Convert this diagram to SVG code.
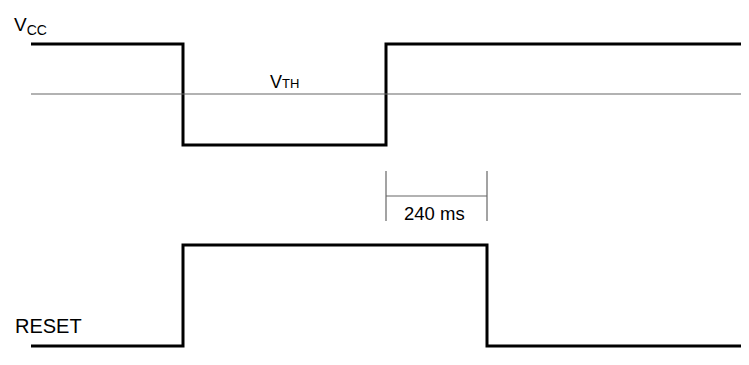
<svg xmlns="http://www.w3.org/2000/svg" width="749" height="365" viewBox="0 0 749 365">
<style>
.sig{fill:none;stroke:#000;stroke-width:3;stroke-linejoin:miter}
.thin{fill:none;stroke:#666;stroke-width:1.2}
.t{font-family:"Liberation Sans",Arial,sans-serif;fill:#000}
</style>
<rect width="749" height="365" fill="#fff"/>
<g id="connectors">
<polyline class="sig" points="31,44 183,44 183,145 386,145 386,44 741,44"/>
<line class="thin" x1="31" y1="94" x2="741" y2="94"/>
<polyline class="sig" points="31,346 183,346 183,245 487,245 487,346 741,346"/>
<line class="thin" x1="386" y1="171" x2="386" y2="221"/>
<line class="thin" x1="487" y1="171" x2="487" y2="221"/>
<line class="thin" x1="386" y1="196" x2="487" y2="196"/>
</g>
<g id="vcc-label"><text class="t" x="14" y="31" font-size="19">V<tspan font-size="14" dy="4">CC</tspan></text></g>
<g id="vth-label"><text class="t" x="270" y="88" font-size="18" fill="#333">V<tspan font-size="13">TH</tspan></text></g>
<g id="time-label"><text class="t" x="404" y="220" font-size="18.5">240 ms</text></g>
<g id="reset-label"><text class="t" x="15" y="333" font-size="20">RESET</text></g>
</svg>
